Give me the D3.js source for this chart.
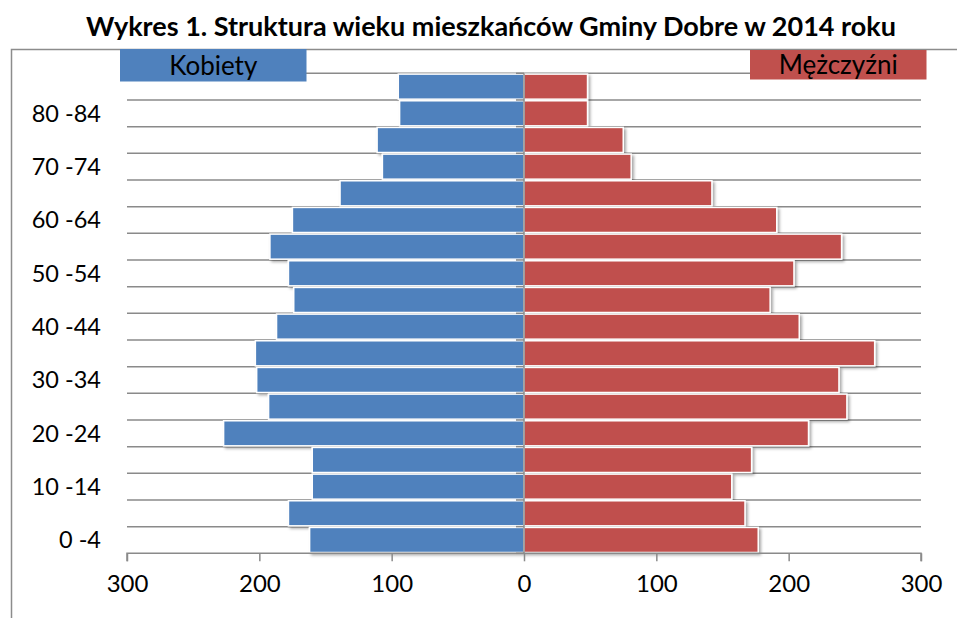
<!DOCTYPE html>
<html>
<head>
<meta charset="utf-8">
<script src="https://cdn.jsdelivr.net/npm/d3@7"></script>
<style>
  html, body { margin: 0; padding: 0; background: #fff; }
  svg { display: block; font-family: Lato, "Open Sans", sans-serif; }
</style>
</head>
<body>
<svg id="chart" width="957" height="618"></svg>
<script>
// ---- Data ----
const title = "Wykres 1. Struktura wieku mieszkańców Gminy Dobre w 2014 roku";
const categories = ["0 -4","5 -9","10 -14","15 -19","20 -24","25 -29","30 -34","35 -39","40 -44",
  "45 -49","50 -54","55 -59","60 -64","65 -69","70 -74","75 -79","80 -84","85 +"];
const women = [162, 178, 160, 160, 227, 193, 202, 203, 187, 174, 178, 192, 175, 139, 107, 111, 94, 95];
const men   = [177, 167, 157, 172, 215, 244, 238, 265, 208, 186, 204, 240, 191, 142, 81, 75, 48, 48];
const seriesNames = ["Kobiety", "Mężczyźni"];
const seriesColors = ["#4f81bd", "#c0504d"];
const xTicks = [-300, -200, -100, 0, 100, 200, 300];

// ---- Layout ----
const svg = d3.select("#chart");
const W = 957, H = 618;
const plot = {left: 127, right: 921, top: 73.3, bottom: 553.3};
const gridColor = "#8a8a8a";

const x = d3.scaleLinear().domain([-300, 300]).range([plot.left, plot.right]);
const y = d3.scaleBand().domain(categories).range([plot.bottom, plot.top])
  .paddingInner(0.06).paddingOuter(0.03);

const defs = svg.append("defs");
const f = defs.append("filter").attr("id", "shadow").attr("x", "-10%").attr("y", "-30%")
  .attr("width", "130%").attr("height", "180%");
f.append("feDropShadow").attr("dx", 2).attr("dy", 2).attr("stdDeviation", 1.6)
  .attr("flood-color", "#000").attr("flood-opacity", 0.35);

// outer frame (cropped chart area border)
svg.append("path")
  .attr("d", `M11.5,${H} L11.5,49.5 L${W},49.5`)
  .attr("fill", "none").attr("stroke", "#8c8c8c").attr("stroke-width", 1.5);

// title
svg.append("text")
  .attr("x", 491).attr("y", 36)
  .attr("text-anchor", "middle")
  .attr("font-weight", "bold").attr("font-size", 27)
  .attr("fill", "#000")
  .text(title);

// gridlines at band boundaries
const boundaries = d3.range(categories.length + 1).map(i => plot.bottom - i * (plot.bottom - plot.top) / categories.length);
svg.append("g").selectAll("line").data(boundaries.slice(1)).join("line")
  .attr("x1", plot.left).attr("x2", plot.right)
  .attr("y1", d => d).attr("y2", d => d)
  .attr("stroke", gridColor).attr("stroke-width", 1.5);

// bars
const gBars = svg.append("g").attr("filter", "url(#shadow)");
gBars.selectAll("rect.w").data(categories).join("rect").attr("class", "w")
  .attr("x", (d, i) => x(-women[i]))
  .attr("width", (d, i) => x(0) - x(-women[i]))
  .attr("y", d => y(d)).attr("height", y.bandwidth())
  .attr("fill", seriesColors[0]).attr("stroke", "#fff").attr("stroke-width", 1.5);
gBars.selectAll("rect.m").data(categories).join("rect").attr("class", "m")
  .attr("x", x(0))
  .attr("width", (d, i) => x(men[i]) - x(0))
  .attr("y", d => y(d)).attr("height", y.bandwidth())
  .attr("fill", seriesColors[1]).attr("stroke", "#fff").attr("stroke-width", 1.5);

// vertical category axis at 0
const gV = svg.append("g");
gV.append("line").attr("x1", x(0)).attr("x2", x(0)).attr("y1", plot.top).attr("y2", plot.bottom)
  .attr("stroke", gridColor).attr("stroke-width", 1.5);
gV.selectAll("line.t").data(boundaries).join("line").attr("class", "t")
  .attr("x1", x(0) - 8).attr("x2", x(0))
  .attr("y1", d => d).attr("y2", d => d)
  .attr("stroke", gridColor).attr("stroke-width", 1.5);

// category labels (every other)
svg.append("g").selectAll("text").data(categories.filter((d, i) => i % 2 === 0)).join("text")
  .attr("x", 101).attr("y", d => y(d) + y.bandwidth() / 2)
  .attr("dy", "0.36em")
  .attr("text-anchor", "end").attr("font-size", 23.5).attr("fill", "#000")
  .text(d => d);

// bottom axis
const xAxis = d3.axisBottom(x).tickValues(xTicks).tickSize(8).tickPadding(14)
  .tickFormat(d => Math.abs(d));
const gx = svg.append("g").attr("transform", `translate(0,${plot.bottom})`).call(xAxis);
gx.select(".domain").attr("stroke", gridColor).attr("stroke-width", 1.5)
  .attr("d", `M${plot.left},8V0H${plot.right}V8`);
gx.selectAll(".tick line").attr("stroke", gridColor).attr("stroke-width", 1.5);
gx.selectAll(".tick text").attr("font-size", 24).attr("font-family", "Lato, sans-serif").attr("fill", "#000");

// legend boxes
const legend = [
  {name: seriesNames[0], color: seriesColors[0], x0: 120, x1: 306.5, y0: 49, y1: 81.5},
  {name: seriesNames[1], color: seriesColors[1], x0: 750, x1: 926.5, y0: 50, y1: 79.5}
];
const gl = svg.append("g");
gl.selectAll("rect").data(legend).join("rect")
  .attr("x", d => d.x0).attr("y", d => d.y0)
  .attr("width", d => d.x1 - d.x0).attr("height", d => d.y1 - d.y0)
  .attr("fill", d => d.color);
gl.selectAll("text").data(legend).join("text")
  .attr("x", d => (d.x0 + d.x1) / 2).attr("y", d => (d.y0 + d.y1) / 2)
  .attr("dy", "0.36em").attr("text-anchor", "middle")
  .attr("font-size", 26).attr("fill", "#000")
  .text(d => d.name);
</script>
</body>
</html>
